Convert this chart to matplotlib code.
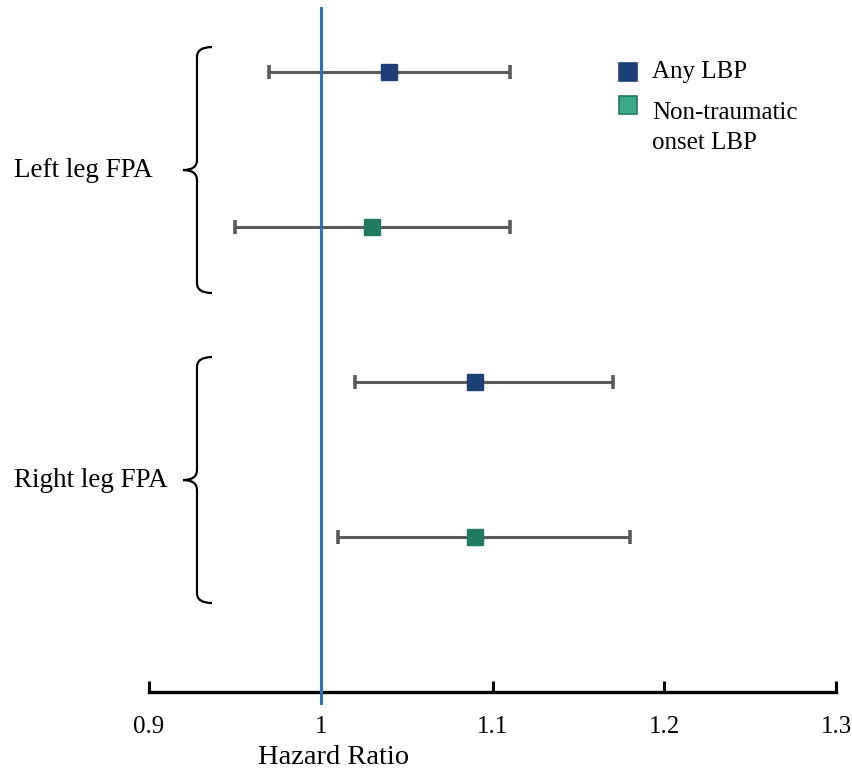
import matplotlib.pyplot as plt
from matplotlib.lines import Line2D
from matplotlib.path import Path
from matplotlib.patches import PathPatch
from matplotlib.transforms import blended_transform_factory

# Hazard ratios with 95% CI, rows top to bottom
groups = ['Left leg FPA', 'Right leg FPA']
outcomes = ['Any LBP', 'Non-traumatic\nonset LBP']
hr = [1.04, 1.03, 1.09, 1.09]
ci_low = [0.97, 0.95, 1.02, 1.01]
ci_high = [1.11, 1.11, 1.17, 1.18]
row_outcome = [0, 1, 0, 1]

marker_colors = ['#1c3f78', '#217a62']
legend_fill = ['#1c3f78', '#3aab88']
xticks = [0.9, 1.0, 1.1, 1.2, 1.3]
xtick_labels = ['0.9', '1', '1.1', '1.2', '1.3']

plt.rcParams['font.family'] = ['Liberation Serif', 'DejaVu Serif']

fig = plt.figure(figsize=(8.53, 7.73), dpi=100)
ax = fig.add_axes([149/853, 81/773, 687/853, 684/773])

rows = list(range(len(hr)))
for i in rows:
    ax.errorbar(hr[i], i, xerr=[[hr[i] - ci_low[i]], [ci_high[i] - hr[i]]],
                fmt='none', ecolor='#5a5a5a', elinewidth=2.2, capsize=5, capthick=2.6, zorder=2)
    ax.plot(hr[i], i, marker='s', markersize=12, color=marker_colors[row_outcome[i]],
            linestyle='none', zorder=4)

ax.axvline(1.0, ymin=-0.016, ymax=1, color='#2e74b5', linewidth=2.2, zorder=3, clip_on=False)

ax.set_xlim(0.9, 1.3)
ax.set_ylim(4.0, -0.413)
ax.set_xticks(xticks)
ax.set_xticklabels(xtick_labels, fontsize=18)
ax.set_yticks([])
for s in ['top', 'right', 'left']:
    ax.spines[s].set_visible(False)
ax.spines['bottom'].set_linewidth(2.4)
ax.tick_params(axis='x', direction='in', length=8, width=2.2, pad=17)

fig.text(334/853, 1 - 757/773, 'Hazard Ratio', fontsize=20.5, ha='center', va='center')

# curly braces grouping the rows
px = 1 / 1717.5
def brace(y0, y1):
    ym = (y0 + y1) / 2
    xb = 0.9 + 48 * px
    xr = xb + 15 * px
    xt = xb - 14 * px
    dy = 10 / 155
    verts = [(xr, y0), (xb, y0), (xb, y0 + dy),
             (xb, ym - dy), (xb, ym), (xt, ym),
             (xb, ym), (xb, ym + dy),
             (xb, y1 - dy), (xb, y1), (xr, y1)]
    codes = [Path.MOVETO, Path.CURVE3, Path.CURVE3,
             Path.LINETO, Path.CURVE3, Path.CURVE3,
             Path.CURVE3, Path.CURVE3,
             Path.LINETO, Path.CURVE3, Path.CURVE3]
    ax.add_patch(PathPatch(Path(verts, codes), fill=False, lw=1.6, color='black', clip_on=False))
    return ym

label_tr = blended_transform_factory(fig.transFigure, ax.transData)
for g, name in enumerate(groups):
    ym = brace(2 * g - 0.161, 2 * g + 1.426)
    ax.text(14/853, ym, name, transform=label_tr, fontsize=19.5, ha='left', va='center')

# legend
leg_y = [1 - 72/773, 1 - 105/773]
text_y = [1 - 72/773, 1 - 128/773]
for k, lab in enumerate(outcomes):
    fig.add_artist(Line2D([628/853], [leg_y[k]], marker='s', markersize=13,
                          markerfacecolor=legend_fill[k], markeredgecolor=marker_colors[k],
                          markeredgewidth=1.2, transform=fig.transFigure))
    fig.text(652/853, text_y[k], lab, fontsize=18, ha='left', va='center', linespacing=1.45)

fig.savefig('out.png', dpi=100)
